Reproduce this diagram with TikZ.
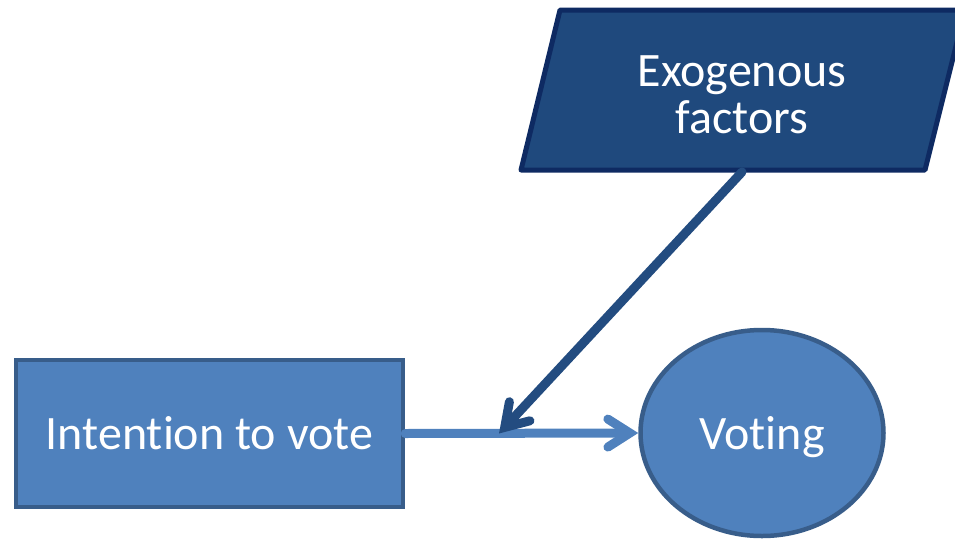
\documentclass[tikz,border=0pt]{standalone}
\usepackage{fontspec}
\setmainfont{Carlito}[RawFeature=-liga]
\usetikzlibrary{arrows.meta,shapes.geometric}
\definecolor{lightfill}{HTML}{4F81BD}
\definecolor{lightedge}{HTML}{385D8A}
\definecolor{darkfill}{HTML}{1F497D}
\definecolor{darkedge}{HTML}{0E2A62}
\definecolor{darkarrow}{HTML}{234C80}
\tikzset{
  lbl/.style={text=white,font=\fontsize{48}{47}\selectfont,align=center,inner sep=0pt},
  boxnode/.style={draw=lightedge,fill=lightfill,line width=4.5pt,minimum width=387pt,minimum height=147pt,lbl},
  ellnode/.style={ellipse,draw=lightedge,fill=lightfill,line width=4.5pt,minimum width=243pt,minimum height=206pt,lbl,text depth=0pt},
  parashape/.style={draw=darkedge,fill=darkfill,line width=5pt,line join=round},
  chev/.style={-{Straight Barb[length=22pt,width=28pt,line cap=round]},line cap=round},
}
\begin{document}
\begin{tikzpicture}[x=1pt,y=-1pt]
\useasboundingbox (0,0) rectangle (955,538);
\draw[parashape] (521,170) -- (560,10) -- (965,10) -- (925,170) -- cycle;
\node[lbl] (exo) at (742,95) {Exogenous\\factors};
\coordinate (exob) at (742,172);
\node[boxnode] (intent) at (209.5,433.5) {Intention to vote};
\node[ellnode] (vote) at (762,433) {Voting};
\coordinate (join) at (499,433.5);
\draw[chev,draw=lightfill,line width=9pt] (intent.east) -- (vote.west);
\draw[chev,draw=darkarrow,line width=9pt] (exob) -- (join);
\end{tikzpicture}
\end{document}
